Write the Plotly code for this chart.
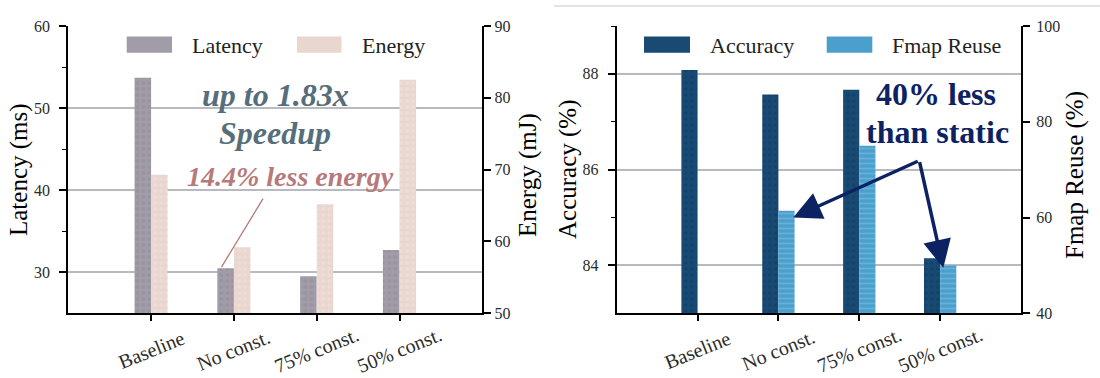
import plotly.graph_objects as go

# ---------------- data ----------------
categories = ["Baseline", "No const.", "75% const.", "50% const."]
latency_ms = [53.7, 30.5, 29.5, 32.7]
energy_mj = [69.3, 59.2, 65.2, 82.5]
accuracy_pct = [88.08, 87.57, 87.67, 84.15]
fmap_reuse_pct = [None, 61.4, 75.0, 50.0]

latency_ticks = [30, 40, 50, 60]
energy_ticks = [50, 60, 70, 80, 90]
accuracy_ticks = [84, 86, 88]
fmap_ticks = [40, 60, 80, 100]

# ---------------- style ----------------
W, H = 1100, 378
FONT = "Liberation Serif, Times New Roman, serif"
C_LAT = "#a19ca7"
C_ENE = "#e8d6cf"
C_ACC = "#184a74"
C_FMAP = "#4a9fcc"
GRID = "#b9b9c2"
TICKC = "#2b2b2b"
NAVY = "#0d2263"
SLATE = "#566e79"
ROSE = "#b67a7b"


def px(x):
    return x / W


def py(y):
    return 1 - y / H


xpos = list(range(len(categories)))

fig = go.Figure()

fig.add_trace(go.Bar(
    x=xpos, y=latency_ms, name="Latency", xaxis="x", yaxis="y",
    width=0.2, offset=-0.2,
    marker=dict(color=C_LAT, line=dict(width=0),
                pattern=dict(shape=".", fgcolor="#8f8a96", size=6, solidity=0.35)),
    showlegend=False,
))
fig.add_trace(go.Bar(
    x=xpos, y=energy_mj, name="Energy", xaxis="x", yaxis="y2",
    width=0.2, offset=0.0,
    marker=dict(color=C_ENE, line=dict(width=0),
                pattern=dict(shape=".", fgcolor="#f1e4de", size=6, solidity=0.35)),
    showlegend=False,
))
fig.add_trace(go.Bar(
    x=xpos, y=accuracy_pct, name="Accuracy", xaxis="x2", yaxis="y3",
    width=0.2, offset=-0.2,
    marker=dict(color=C_ACC, line=dict(width=0),
                pattern=dict(shape=".", fgcolor="#0f3b60", size=6, solidity=0.35)),
    showlegend=False,
))
fig.add_trace(go.Bar(
    x=xpos, y=fmap_reuse_pct, name="Fmap Reuse", xaxis="x2", yaxis="y4",
    width=0.2, offset=0.0,
    marker=dict(color=C_FMAP, line=dict(width=0),
                pattern=dict(shape="-", fgcolor="#7fc4e6", size=5, solidity=0.35)),
    showlegend=False,
))

ydom = [py(313.3), py(26)]
tickfont = dict(family=FONT, size=16, color=TICKC)

common_x = dict(range=[-1, 4], tickvals=xpos, ticks="outside", ticklen=6,
                tickwidth=1.5, tickcolor="black", showticklabels=False,
                showline=True, linecolor="black", linewidth=2, automargin=False,
                showgrid=False, zeroline=False, fixedrange=True)

fig.update_layout(
    width=W, height=H,
    autosize=False,
    margin=dict(l=0, r=0, t=0, b=0, pad=0, autoexpand=False),
    paper_bgcolor="white", plot_bgcolor="white",
    barmode="overlay",
    showlegend=False,
    font=dict(family=FONT, color="black"),
    xaxis=dict(domain=[px(68.3), px(482.3)], anchor="y", **common_x),
    xaxis2=dict(domain=[px(616.7), px(1021)], anchor="y3", **common_x),
    yaxis=dict(domain=ydom, anchor="x", range=[25, 60], tickvals=latency_ticks,
               ticks="outside", ticklen=7, tickwidth=1.5, tickcolor="black",
               minor=dict(ticks="outside", ticklen=4, tickwidth=1.2, tickcolor="black",
                          tickvals=[35, 45, 55], showgrid=False),
               showgrid=True, gridcolor=GRID, gridwidth=1.5, automargin=False,
               showline=True, linecolor="black", linewidth=2, zeroline=False,
               tickfont=tickfont, ticklabelstandoff=6),
    yaxis2=dict(overlaying="y", side="right", anchor="x", range=[50, 90],
                tickvals=energy_ticks, ticks="outside", ticklen=7, tickwidth=1.5,
                tickcolor="black", showgrid=False, showline=True, linecolor="black",
                linewidth=2, zeroline=False, tickfont=tickfont, ticklabelstandoff=0,
                automargin=False),
    yaxis3=dict(domain=ydom, anchor="x2", range=[83, 89], tickvals=accuracy_ticks,
                ticks="outside", ticklen=7, tickwidth=1.5, tickcolor="black",
                minor=dict(ticks="outside", ticklen=4, tickwidth=1.2, tickcolor="black",
                           tickvals=[85, 87, 89], showgrid=False),
                showgrid=True, gridcolor=GRID, gridwidth=1.5, automargin=False,
                showline=True, linecolor="black", linewidth=2, zeroline=False,
                tickfont=tickfont, ticklabelstandoff=6),
    yaxis4=dict(overlaying="y3", side="right", anchor="x2", range=[40, 100],
                tickvals=fmap_ticks, ticks="outside", ticklen=7, tickwidth=1.5,
                tickcolor="black", showgrid=False, showline=True, linecolor="black",
                linewidth=2, zeroline=False, tickfont=tickfont, ticklabelstandoff=3,
                automargin=False),
)

annotations = []
shapes = []

# rotated category labels, centred on ticks
for xa in ("x", "x2"):
    for i, lab in enumerate(categories):
        annotations.append(dict(
            x=i, xref=xa, y=py(350), yref="paper", text=lab, showarrow=False,
            textangle=-22, xanchor="center", yanchor="middle",
            font=dict(family=FONT, size=20, color=TICKC)))

# axis titles
for text, x, y in [("Latency (ms)", 19, 170), ("Energy (mJ)", 528, 175),
                   ("Accuracy (%)", 568, 169), ("Fmap Reuse (%)", 1075, 175)]:
    annotations.append(dict(x=px(x), y=py(y), xref="paper", yref="paper", text=text,
                            showarrow=False, textangle=-90, xanchor="center",
                            yanchor="middle", font=dict(family=FONT, size=25, color="black")))

# custom legends (large swatches)
for (x0, x1, col, lab, tx) in [(126.7, 172, C_LAT, "Latency", 190),
                               (297, 341.5, C_ENE, "Energy", 360),
                               (644, 690, C_ACC, "Accuracy", 708),
                               (826.7, 872.3, C_FMAP, "Fmap Reuse", 889.5)]:
    shapes.append(dict(type="rect", xref="paper", yref="paper",
                       x0=px(x0), x1=px(x1), y0=py(52.7), y1=py(36.5),
                       fillcolor=col, line=dict(width=0)))
    annotations.append(dict(x=px(tx), y=py(45), xref="paper", yref="paper", text=lab,
                            showarrow=False, xanchor="left", yanchor="middle",
                            font=dict(family=FONT, size=22, color="#222222")))

# left-panel call-outs
annotations.append(dict(x=px(275.4), y=py(95), xref="paper", yref="paper",
                        text="<b><i>up to 1.83x</i></b>", showarrow=False,
                        xanchor="center", yanchor="middle",
                        font=dict(family=FONT, size=32, color=SLATE)))
annotations.append(dict(x=px(275), y=py(133), xref="paper", yref="paper",
                        text="<b><i>Speedup</i></b>", showarrow=False,
                        xanchor="center", yanchor="middle",
                        font=dict(family=FONT, size=32, color=SLATE)))
annotations.append(dict(x=px(290), y=py(176), xref="paper", yref="paper",
                        text="<b><i>14.4% less energy</i></b>", showarrow=False,
                        xanchor="center", yanchor="middle",
                        font=dict(family=FONT, size=28, color=ROSE)))
shapes.append(dict(type="line", xref="x", yref="y", x0=1.352, y0=38.98, x1=0.85, y1=30.63,
                   line=dict(color=ROSE, width=1.3)))

# right-panel call-outs
annotations.append(dict(x=px(936), y=py(94), xref="paper", yref="paper",
                        text="<b>40% less</b>", showarrow=False,
                        xanchor="center", yanchor="middle",
                        font=dict(family=FONT, size=32, color=NAVY)))
annotations.append(dict(x=px(937), y=py(132), xref="paper", yref="paper",
                        text="<b>than static</b>", showarrow=False,
                        xanchor="center", yanchor="middle",
                        font=dict(family=FONT, size=32, color=NAVY)))
for (hx, hy) in [(1.184, 85.0), (3.039, 83.95)]:
    annotations.append(dict(x=hx, y=hy, xref="x2", yref="y3",
                            ax=2.742, ay=86.19, axref="x2", ayref="y3",
                            text="", showarrow=True, arrowhead=2, arrowsize=1.6,
                            arrowwidth=3.5, arrowcolor=NAVY, standoff=0))

# faint separator line at the top of the right half
shapes.append(dict(type="line", xref="paper", yref="paper", x0=px(554), x1=1,
                   y0=py(6), y1=py(6), line=dict(color="#dadada", width=1.5)))

fig.update_layout(annotations=annotations, shapes=shapes)

fig.write_html("out.html",
               config={"displayModeBar": False},
               post_script="document.body.style.margin='0px';"
                           "document.body.style.overflow='hidden';")
